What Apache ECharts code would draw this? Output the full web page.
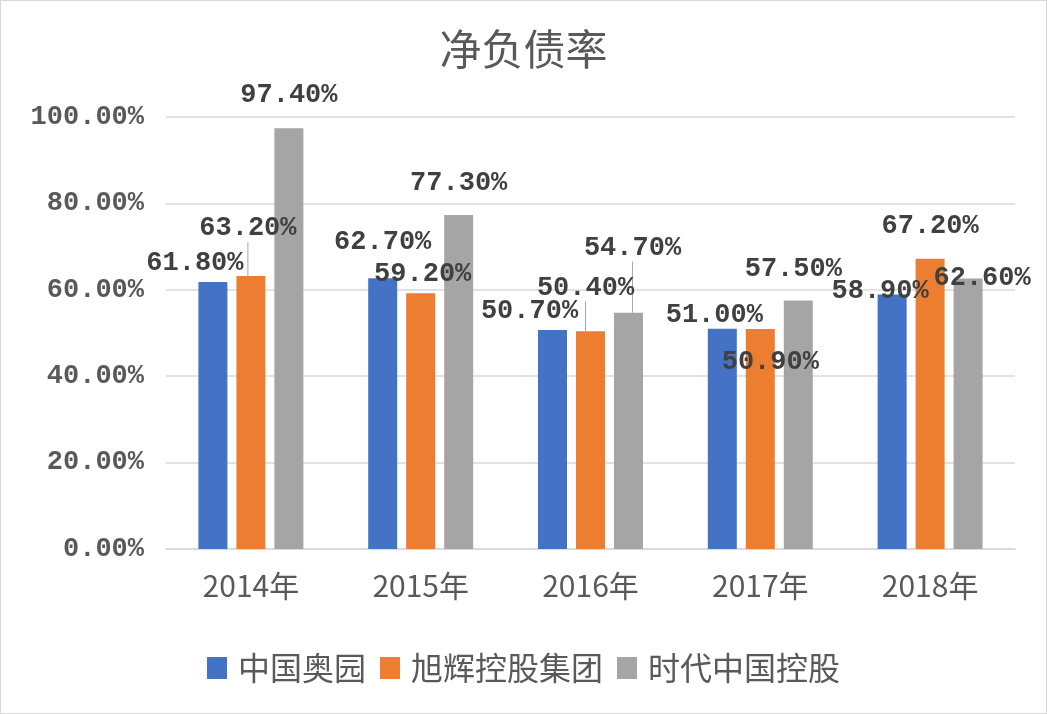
<!DOCTYPE html>
<html>
<head>
<meta charset="utf-8">
<script src="https://cdn.jsdelivr.net/npm/echarts@6/dist/echarts.min.js"></script>
<style>
html,body{margin:0;padding:0;background:#fff;}
#c{width:1047px;height:714px;box-sizing:border-box;border:1px solid #d9d9d9;}
</style>
</head>
<body>
<div id="c"></div>
<script>
// ---- data ----
var categories = ['2014年', '2015年', '2016年', '2017年', '2018年'];
var seriesNames = ['中国奥园', '旭辉控股集团', '时代中国控股'];
var aoyuan = [61.8, 62.7, 50.7, 51.0, 58.9];
var xuhui = [63.2, 59.2, 50.4, 50.9, 67.2];
var shidai = [97.4, 77.3, 54.7, 57.5, 62.6];
var yTicks = [0, 20, 40, 60, 80, 100];

// ---- label layout (offsets from default top position) ----
var labelShift = [
  [[-18, 0], [0, -17], [-23, 0], [-8, 5], [-12, 15]],
  [[-3, -29], [2, -1], [-5, -25], [10, 52], [0, -14]],
  [[0, -15], [0, -13], [4, -46], [-5, -13], [14, 18]]
];
var leaderLines = [[], [0, 2], [2]];
var colors = ['#4472C4', '#ED7D31', '#A5A5A5'];
var numFont = '"Liberation Mono", "DejaVu Sans Mono", monospace';
var cjkFont = '"Noto Sans CJK SC", sans-serif';

var chart = echarts.init(document.getElementById('c'));

function mkSeries(idx, vals) {
  return {
    name: seriesNames[idx],
    type: 'bar',
    barWidth: 29,
    barGap: '31%',
    itemStyle: { color: colors[idx] },
    data: vals.map(function (v, i) {
      var item = { value: v };
      if (leaderLines[idx].indexOf(i) >= 0) {
        item.labelLine = { show: true, lineStyle: { color: '#A6A6A6', width: 1 } };
      }
      return item;
    }),
    label: {
      show: true,
      position: 'top',
      distance: 5,
      color: '#404040',
      fontFamily: numFont,
      fontWeight: 'bold',
      fontSize: 27,
      formatter: function (p) { return p.value.toFixed(2) + '%'; }
    },
    labelLine: { show: false, lineStyle: { color: '#A6A6A6', width: 1 } },
    labelLayout: function (p) {
      var s = labelShift[idx][p.dataIndex];
      return { dx: s[0], dy: s[1] };
    }
  };
}

chart.setOption({
  animation: false,
  backgroundColor: '#fff',
  title: {
    text: '净负债率',
    left: 'center',
    top: 22,
    textStyle: { fontFamily: cjkFont, fontSize: 42, fontWeight: 'normal', color: '#595959' }
  },
  legend: {
    data: seriesNames,
    left: 'center',
    top: 646,
    itemWidth: 20,
    itemHeight: 22,
    itemGap: 14,
    icon: 'rect',
    textStyle: { fontFamily: cjkFont, fontSize: 32, color: '#595959', padding: [0, 0, 0, 6] }
  },
  grid: { left: 165, right: 31, top: 116, bottom: 164 },
  xAxis: {
    type: 'category',
    data: categories,
    axisLine: { lineStyle: { color: '#D9D9D9', width: 1.5 } },
    axisTick: { show: false },
    axisLabel: { fontFamily: cjkFont, fontSize: 30, color: '#595959', margin: 22 }
  },
  yAxis: {
    type: 'value',
    min: yTicks[0],
    max: yTicks[yTicks.length - 1],
    interval: yTicks[1] - yTicks[0],
    axisLine: { show: false },
    axisTick: { show: false },
    splitLine: { lineStyle: { color: '#D9D9D9', width: 1.5 } },
    axisLabel: {
      fontFamily: numFont,
      fontWeight: 'bold',
      fontSize: 27,
      color: '#595959',
      margin: 22,
      formatter: function (v) { return v.toFixed(2) + '%'; }
    }
  },
  series: [mkSeries(0, aoyuan), mkSeries(1, xuhui), mkSeries(2, shidai)]
});
</script>
</body>
</html>
